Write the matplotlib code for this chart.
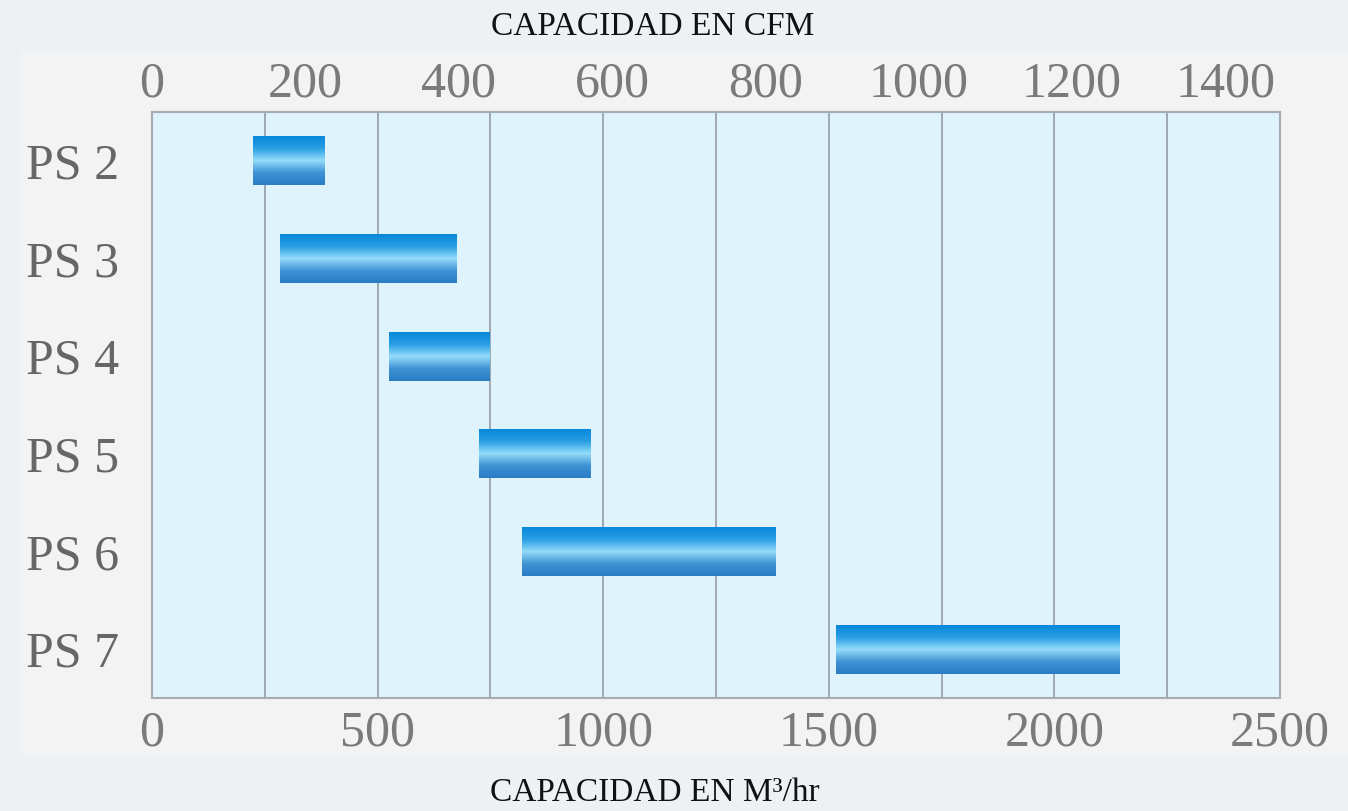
import numpy as np
import matplotlib
matplotlib.use('Agg')
import matplotlib.pyplot as plt
from matplotlib.colors import LinearSegmentedColormap
from matplotlib.patches import Rectangle

modelos = ['PS 2', 'PS 3', 'PS 4', 'PS 5', 'PS 6', 'PS 7']
cap_min = [224, 284, 525, 725, 820, 1516]     # m3/hr
cap_max = [383, 676, 747, 973, 1381, 2145]    # m3/hr
ticks_m3 = [0, 500, 1000, 1500, 2000, 2500]
ticks_cfm = [0, 200, 400, 600, 800, 1000, 1200, 1400]
M3_POR_CFM = 1.699

plt.rcParams['font.family'] = ['Liberation Serif', 'DejaVu Serif']

fig = plt.figure(figsize=(13.48, 8.11), dpi=100)
fig.patch.set_facecolor('#edf1f4')
fig.patches.append(Rectangle((21 / 1348, 1 - 755 / 811), 1 - 21 / 1348, (755 - 52) / 811,
                             transform=fig.transFigure, facecolor='#f3f3f3',
                             edgecolor='none', zorder=-5))

ax = fig.add_axes([152 / 1348, 1 - 698 / 811, 1128 / 1348, 586 / 811])
ax.set_facecolor('#dff3fc')

grad = LinearSegmentedColormap.from_list('barra', ['#0888da', '#2a9fe4', '#95dcfa', '#3f93d4', '#2a7cc4'])
g = np.linspace(0, 1, 100).reshape(-1, 1)
alto = 0.5
for i, (a, b) in enumerate(zip(cap_min, cap_max)):
    ax.imshow(g, cmap=grad, aspect='auto', extent=(a, b, i + alto / 2, i - alto / 2),
              interpolation='bicubic', zorder=3)

ax.set_xlim(0, 2500)
ax.set_ylim(len(modelos) - 0.5, -0.5)
ax.set_xticks(ticks_m3)
ax.set_xticks(np.arange(0, 2501, 250), minor=True)
ax.set_yticks(range(len(modelos)))
ax.set_yticklabels(modelos)
ax.grid(True, which='both', axis='x', color='#9aa4aa', linewidth=1.3, zorder=1)
ax.set_axisbelow(True)
ax.tick_params(axis='both', which='both', length=0)
ax.tick_params(axis='x', labelsize=36, colors='#7a7a7a', pad=9)
ax.tick_params(axis='y', labelsize=36, colors='#666666', pad=24)
for s in ax.spines.values():
    s.set_color('#a3adb3')
    s.set_linewidth(1.5)

top = ax.secondary_xaxis('top', functions=(lambda x: x / M3_POR_CFM, lambda x: x * M3_POR_CFM))
top.set_xticks(ticks_cfm)
top.tick_params(length=0, labelsize=36, colors='#7a7a7a', pad=3)
top.spines['top'].set_visible(False)

fig.text(0.4845, 1 - 27 / 811, 'CAPACIDAD EN CFM', ha='center', va='center', fontsize=24, color='#111111')
fig.text(0.4855, 1 - 793 / 811, 'CAPACIDAD EN M³/hr', ha='center', va='center', fontsize=24, color='#111111')

fig.savefig('out.png', dpi=100, facecolor=fig.get_facecolor())
